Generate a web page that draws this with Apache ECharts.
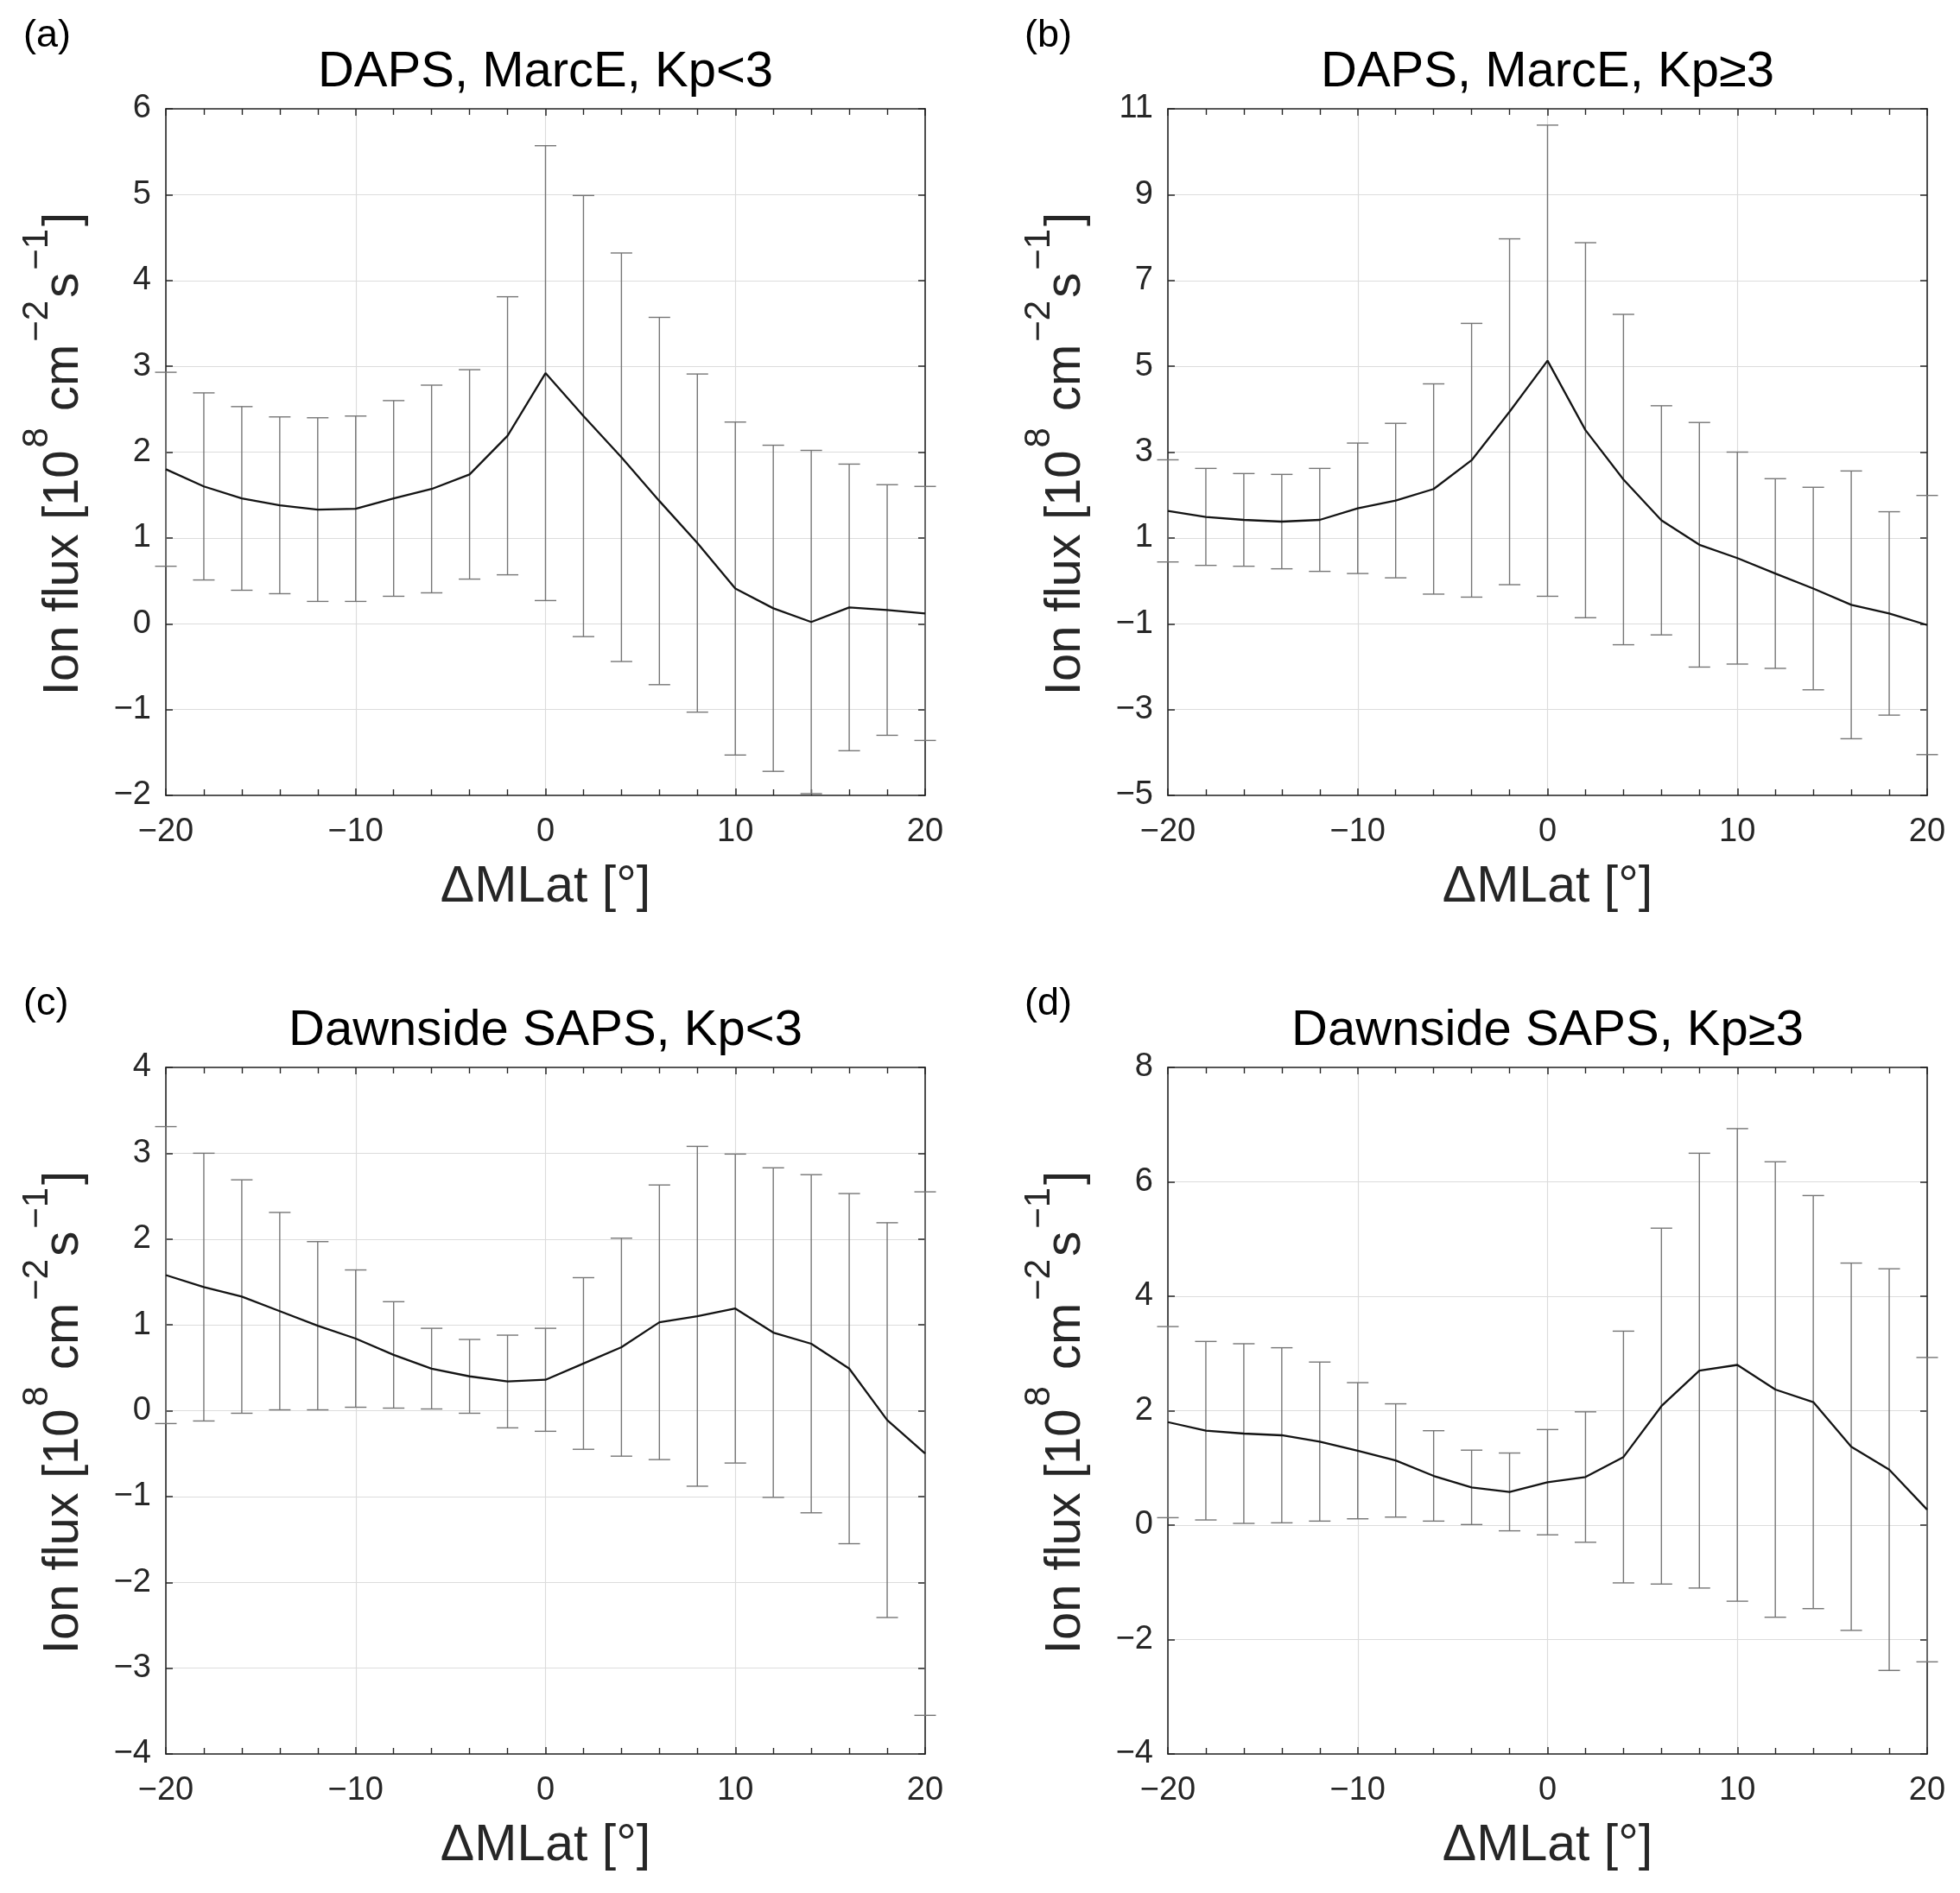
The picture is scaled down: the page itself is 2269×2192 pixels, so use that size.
<!DOCTYPE html>
<html><head><meta charset="utf-8">
<script src="https://cdn.jsdelivr.net/npm/echarts@6/dist/echarts.min.js"></script>
<style>html,body{margin:0;padding:0;background:#fff}#c{width:2269px;height:2192px}</style>
</head><body><div id="c"></div>
<script>
// ---- data ----
const dMLat = [-20,-18,-16,-14,-12,-10,-8,-6,-4,-2,0,2,4,6,8,10,12,14,16,18,20];

const meanA = [1.80,1.60,1.46,1.38,1.33,1.34,1.46,1.57,1.74,2.19,2.92,2.42,1.94,1.43,0.94,0.41,0.18,0.02,0.19,0.16,0.12];
const errA  = [1.13,1.09,1.07,1.03,1.07,1.08,1.14,1.21,1.22,1.62,2.65,2.57,2.38,2.14,1.97,1.94,1.90,2.00,1.67,1.46,1.48];

const meanB = [1.63,1.49,1.42,1.38,1.42,1.69,1.87,2.14,2.81,3.94,5.13,3.51,2.36,1.41,0.84,0.53,0.17,-0.18,-0.56,-0.76,-1.03];
const errB  = [1.19,1.13,1.08,1.10,1.20,1.52,1.80,2.45,3.19,4.03,5.49,4.37,3.85,2.67,2.85,2.47,2.21,2.36,3.12,2.37,3.02];

const meanC = [1.58,1.44,1.33,1.16,0.99,0.84,0.65,0.49,0.40,0.34,0.36,0.55,0.74,1.03,1.10,1.19,0.91,0.78,0.49,-0.11,-0.50];
const errC  = [1.73,1.56,1.36,1.15,0.98,0.80,0.62,0.47,0.43,0.54,0.60,1.00,1.27,1.60,1.98,1.80,1.92,1.97,2.04,2.30,3.05];

const meanD = [1.80,1.65,1.60,1.57,1.46,1.30,1.13,0.86,0.66,0.58,0.75,0.84,1.19,2.08,2.70,2.80,2.37,2.15,1.37,0.97,0.27];
const errD  = [1.67,1.56,1.57,1.53,1.39,1.19,0.99,0.79,0.65,0.68,0.92,1.14,2.20,3.11,3.80,4.13,3.98,3.61,3.21,3.51,2.66];

const titles = ['DAPS, MarcE, Kp<3', 'DAPS, MarcE, Kp\u22653', 'Dawnside SAPS, Kp<3', 'Dawnside SAPS, Kp\u22653'];
const panelLabels = ['(a)', '(b)', '(c)', '(d)'];
const xLabel = '\u0394MLat [\u00b0]';
const xMin = -20, xMax = 20, xStep = 10;
const yMins  = [-2, -5, -4, -4];
const yMaxs  = [6, 11, 4, 8];
const ySteps = [1, 2, 1, 2];

const means = [meanA, meanB, meanC, meanD];
const errs  = [errA, errB, errC, errD];

// ---- layout ----
const FONT = "'Liberation Sans', Arial, Helvetica, sans-serif";
const GW = 879, GH = 795;
const gLeft = [192, 1352, 192, 1352];
const gTop  = [126, 126, 1236, 1236];
const labX = [27, 1186, 27, 1186];
const labY = [42, 42, 1163, 1163];
const AX = '#262626';

const fmt = v => String(v).replace('-', '\u2212');

const grids = [], xAxes = [], yAxes = [], series = [], graphics = [];

function errRender(params, api) {
  const x = api.value(0), lo = api.value(1), hi = api.value(2);
  const a = api.coord([x, lo]), b = api.coord([x, hi]);
  const hw = 12.5;
  const st = {stroke: '#767676', lineWidth: 1.4, fill: null};
  return {type: 'group', children: [
    {type: 'line', shape: {x1: a[0], y1: a[1], x2: b[0], y2: b[1]}, style: st},
    {type: 'line', shape: {x1: b[0] - hw, y1: b[1], x2: b[0] + hw, y2: b[1]}, style: st},
    {type: 'line', shape: {x1: a[0] - hw, y1: a[1], x2: a[0] + hw, y2: a[1]}, style: st}
  ]};
}

for (let i = 0; i < 4; i++) {
  grids.push({left: gLeft[i], top: gTop[i], width: GW, height: GH, containLabel: false});
  ['bottom', 'top'].forEach(pos => {
    xAxes.push({
      type: 'value', gridIndex: i, position: pos, min: xMin, max: xMax, interval: xStep,
      axisLine: {show: true, onZero: false, lineStyle: {color: AX, width: 1.6}},
      axisTick: {show: true, inside: true, length: 8, lineStyle: {color: AX, width: 1.5}},
      minorTick: {show: true, splitNumber: 5, length: 7, lineStyle: {color: AX, width: 1.4}},
      axisLabel: {show: pos === 'bottom', margin: 24, fontSize: 38, color: AX, fontFamily: FONT, formatter: fmt},
      splitLine: {show: pos === 'bottom', lineStyle: {color: '#dcdcdc', width: 1.2}},
      minorSplitLine: {show: false}
    });
  });
  ['left', 'right'].forEach(pos => {
    yAxes.push({
      type: 'value', gridIndex: i, position: pos, min: yMins[i], max: yMaxs[i], interval: ySteps[i],
      axisLine: {show: true, onZero: false, lineStyle: {color: AX, width: 1.6}},
      axisTick: {show: true, inside: true, length: 8, lineStyle: {color: AX, width: 1.5}},
      axisLabel: {show: pos === 'left', margin: 17, fontSize: 38, color: AX, fontFamily: FONT, formatter: fmt},
      splitLine: {show: pos === 'left', lineStyle: {color: '#dcdcdc', width: 1.2}}
    });
  });

  const m = means[i], e = errs[i];
  series.push({
    type: 'custom', xAxisIndex: 2 * i, yAxisIndex: 2 * i, clip: false, z: 3, silent: true,
    renderItem: errRender, encode: {x: 0, y: [1, 2]},
    data: dMLat.map((x, j) => [x, +(m[j] - e[j]).toFixed(3), +(m[j] + e[j]).toFixed(3)])
  });
  series.push({
    type: 'line', xAxisIndex: 2 * i, yAxisIndex: 2 * i, z: 5, silent: true,
    showSymbol: false, symbol: 'none',
    lineStyle: {color: '#141414', width: 2.3},
    data: dMLat.map((x, j) => [x, m[j]])
  });

  const cx = gLeft[i] + GW / 2, cy = gTop[i] + GH / 2;
  graphics.push({type: 'text', x: cx, y: gTop[i] - 42, silent: true,
    style: {text: titles[i], font: '58px ' + FONT, fill: '#000', align: 'center', verticalAlign: 'middle'}});
  graphics.push({type: 'text', x: labX[i], y: labY[i], silent: true,
    style: {text: panelLabels[i], font: '45px ' + FONT, fill: '#000', align: 'left', verticalAlign: 'middle'}});
  graphics.push({type: 'text', x: cx, y: gTop[i] + GH + 107, silent: true,
    style: {text: xLabel, font: '59px ' + FONT, fill: AX, align: 'center', verticalAlign: 'middle'}});
  graphics.push({type: 'text', x: gLeft[i] - 118, y: cy + 2, rotation: Math.PI / 2, silent: true,
    style: {
      text: '{m|Ion flux [10}{s|8}{m| cm}{s|\u22122}{m|s}{s|\u22121}{m|]}',
      align: 'center', verticalAlign: 'middle', fill: AX,
      rich: {
        m: {fontSize: 58, fontFamily: FONT, lineHeight: 104, verticalAlign: 'middle', fill: AX, color: AX},
        s: {fontSize: 42, fontFamily: FONT, lineHeight: 43, verticalAlign: 'top', fill: AX, color: AX, padding: [0, 3, 0, 3]}
      }
    }});
}

const chart = echarts.init(document.getElementById('c'), null, {renderer: 'canvas'});
chart.setOption({
  animation: false,
  backgroundColor: '#fff',
  grid: grids, xAxis: xAxes, yAxis: yAxes, series: series, graphic: graphics
});
</script></body></html>
